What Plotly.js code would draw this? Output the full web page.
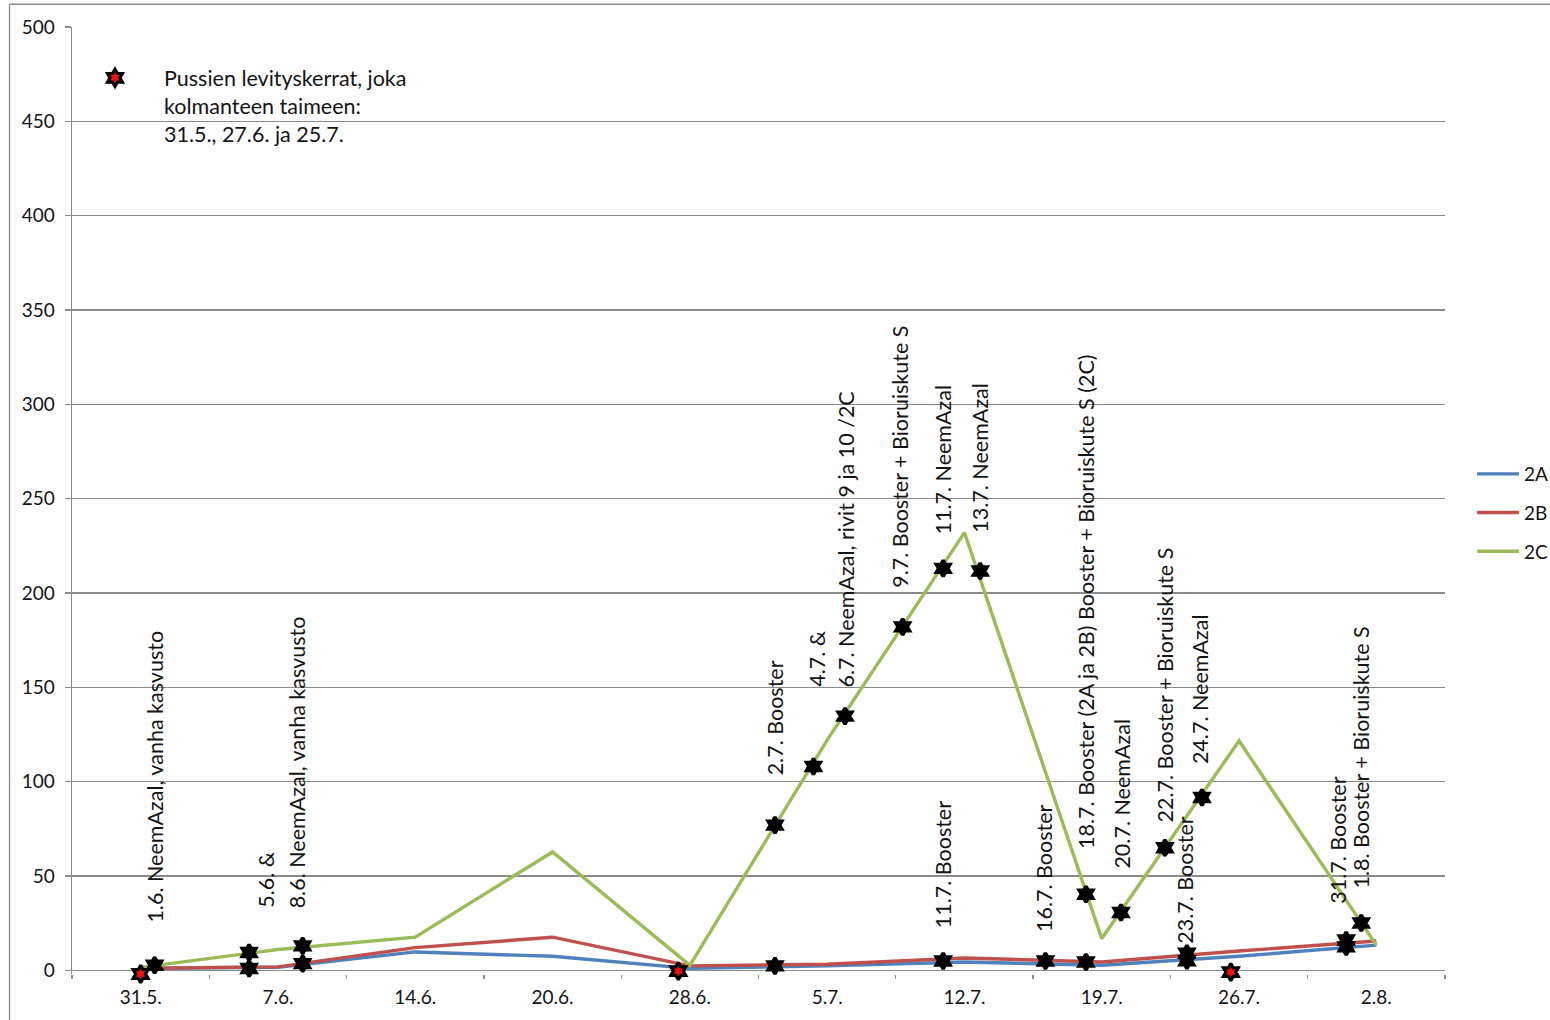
<!DOCTYPE html>
<html>
<head>
<meta charset="utf-8">
<script src="https://cdn.plot.ly/plotly-3.0.1.min.js"></script>
<style>
  html, body { margin: 0; padding: 0; background: #fff; }
  #chart { width: 1550px; height: 1020px; }
</style>
</head>
<body>
<div id="chart"></div>
<script>
// Sampling dates (category axis labels)
const dates = ['31.5.', '7.6.', '14.6.', '20.6.', '28.6.', '5.7.', '12.7.', '19.7.', '26.7.', '2.8.'];

// Counts per plot
const s2A = [1, 1.5, 9.7, 7.4, 1, 2.3, 4.4, 2.6, 7.4, 13.3];
const s2B = [1, 1.8, 12, 17.5, 2.3, 3.2, 6.5, 4.4, 10.2, 15.5];
const s2C = [1.5, 11, 17.5, 62.7, 2.6, 122, 232, 16.8, 121.6, 13.3];

// Treatment events, positioned between sampling dates (fractional category index)
const treatPos = [0.102, 0.79, 0.79, 1.18, 1.18, 4.62, 4.62, 4.90, 5.13, 5.55, 5.845, 5.845,
                  6.115, 6.59, 6.885, 6.885, 7.14, 7.46, 7.62, 7.62, 7.73, 8.78, 8.78, 8.89];
const treatVal = [2.6, 9.4, 0.9, 12.9, 3.5, 76.9, 2.3, 108, 134.7, 182, 213, 4.9,
                  211.6, 4.9, 40.3, 4.4, 30.6, 64.9, 9, 5, 91.6, 16, 12.4, 25];

// Bag releases (31.5., 27.6. and 25.7.)
const bagPos = [0, 3.916, 7.94];
const bagVal = [-2, -0.5, -1];

// Treatment labels: text, x position, y of the text start
const notes = [
  ['1.6. NeemAzal, vanha kasvusto', 0.102, 24],
  ['5.6. &', 0.916, 32],
  ['8.6. NeemAzal, vanha kasvusto', 1.135, 32],
  ['2.7. Booster', 4.62, 102.5],
  ['4.7. &', 4.92, 149],
  ['6.7. NeemAzal, rivit 9 ja 10 /2C', 5.14, 149],
  ['9.7. Booster + Bioruiskute S', 5.53, 201.6],
  ['11.7. NeemAzal', 5.845, 230],
  ['13.7. NeemAzal', 6.115, 231],
  ['11.7. Booster', 5.845, 21],
  ['16.7. Booster', 6.58, 19],
  ['18.7. Booster (2A ja 2B) Booster + Bioruiskute S (2C)', 6.88, 63.4],
  ['20.7. NeemAzal', 7.15, 53],
  ['22.7. Booster + Bioruiskute S', 7.46, 77.5],
  ['23.7. Booster', 7.61, 13],
  ['24.7. NeemAzal', 7.72, 108],
  ['31.7. Booster', 8.715, 34],
  ['1.8. Booster + Bioruiskute S', 8.885, 42]
];

const FONT = 'Lato, "Open Sans", sans-serif';
const TXT = '#141414';
const GRID = '#8a8a8a';

const idx = dates.map((d, i) => i);
const lineTrace = (name, y, color, group) => ({
  type: 'scatter', mode: 'lines', name: name, x: idx, y: y,
  line: { color: color, width: 3.4 }, legend: 'legend', legendgroup: group,
  cliponaxis: false, hoverinfo: 'x+y+name'
});

const traces = [
  lineTrace('2A', s2A, '#4f81bd', 'a'),
  lineTrace('2B', s2B, '#c0504d', 'b'),
  lineTrace('2C', s2C, '#9bbb59', 'c'),
  {
    type: 'scatter', mode: 'markers', x: treatPos, y: treatVal, showlegend: false,
    marker: { symbol: 'hexagram', size: 12, color: '#000', line: { color: '#000', width: 3.5 } },
    cliponaxis: false, hoverinfo: 'skip'
  },
  {
    type: 'scatter', mode: 'markers', x: bagPos, y: bagVal,
    name: 'Pussien levityskerrat, joka<br>kolmanteen taimeen:<br>31.5., 27.6. ja 25.7.',
    legend: 'legend2',
    marker: { symbol: 'hexagram', size: 13, color: '#ee1111', line: { color: '#000', width: 3.2 } },
    cliponaxis: false, hoverinfo: 'skip'
  }
];

// Minor ticks sit on the boundaries between categories
const boundaries = dates.concat(['']).map((d, i) => i - 0.5);

const annotations = notes.map(n => ({
  text: n[0], x: n[1], y: n[2], xref: 'x', yref: 'y',
  textangle: -90, xanchor: 'center', yanchor: 'bottom',
  showarrow: false, font: { family: FONT, size: 21.5, color: TXT }
}));

const layout = {
  width: 1550, height: 1020,
  margin: { l: 72, r: 105, t: 27, b: 46, autoexpand: false },
  paper_bgcolor: '#fff', plot_bgcolor: '#fff',
  font: { family: FONT, size: 19, color: TXT },
  xaxis: {
    range: [-0.5, 9.5], tickvals: idx, ticktext: dates, ticks: '', showgrid: false,
    zeroline: false, showline: false, ticklabelstandoff: 10,
    tickfont: { family: FONT, size: 19, color: TXT },
    minor: { tickvals: boundaries, ticks: 'outside', ticklen: 4, tickcolor: GRID, tickwidth: 1.3, showgrid: false }
  },
  yaxis: {
    range: [-2, 500], tickvals: [0, 50, 100, 150, 200, 250, 300, 350, 400, 450, 500],
    ticks: 'outside', ticklen: 6, tickcolor: GRID, tickwidth: 1.3,
    showgrid: true, gridcolor: GRID, gridwidth: 1.3,
    zeroline: true, zerolinecolor: GRID, zerolinewidth: 1.3,
    showline: true, linecolor: GRID, linewidth: 1.3, ticklabelstandoff: 6,
    tickfont: { family: FONT, size: 19, color: TXT }
  },
  showlegend: true,
  legend: {
    x: 1.0197, xanchor: 'left', y: 0.4868, yanchor: 'middle',
    bgcolor: 'rgba(0,0,0,0)', tracegroupgap: 11, itemwidth: 42,
    font: { family: FONT, size: 19, color: TXT }
  },
  legend2: {
    x: -0.0044, xanchor: 'left', y: 0.968, yanchor: 'top', valign: 'top',
    bgcolor: 'rgba(0,0,0,0)', itemwidth: 88,
    font: { family: FONT, size: 21.5, color: TXT }
  },
  annotations: annotations,
  shapes: [
    { type: 'line', xref: 'paper', yref: 'paper', x0: -0.0455, x1: -0.0455, y0: 1.024, y1: -0.06,
      line: { color: GRID, width: 1.3 } },
    { type: 'line', xref: 'paper', yref: 'paper', x0: -0.0455, x1: 1.08, y0: 1.024, y1: 1.024,
      line: { color: GRID, width: 1.3 } }
  ]
};

Plotly.newPlot('chart', traces, layout, { displayModeBar: false, staticPlot: true });
</script>
</body>
</html>
